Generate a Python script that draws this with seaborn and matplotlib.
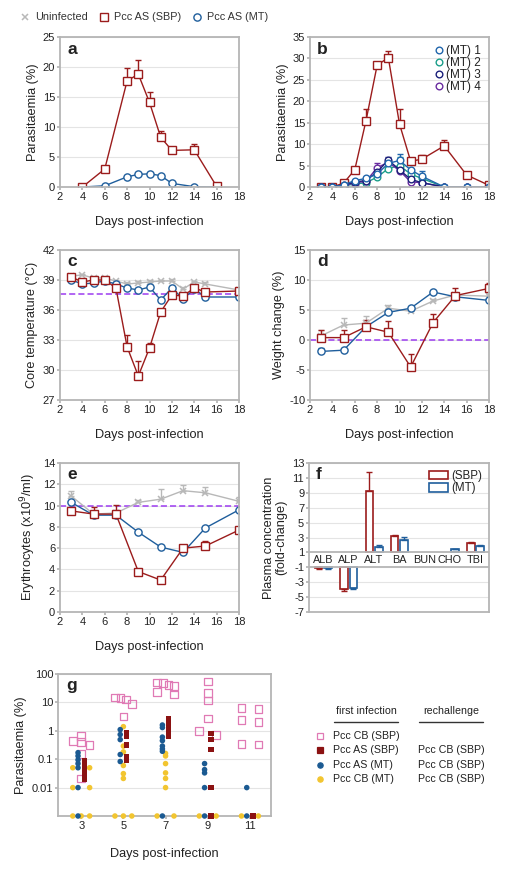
import numpy as np
import pandas as pd
import seaborn as sns
import matplotlib.pyplot as plt
from matplotlib.lines import Line2D
from matplotlib.patches import Patch
from matplotlib.ticker import NullLocator

# ---------------- data ----------------
# a: parasitaemia, Pcc AS (SBP) vs Pcc AS (MT)
a_days = [4, 6, 8, 9, 10, 11, 12, 14, 16]
a_sbp = [0, 3.0, 17.7, 18.8, 14.1, 8.3, 6.1, 6.2, 0.1]
a_sbp_err = [0, 0, 2.1, 2.3, 1.7, 1.1, 0.6, 0.9, 0]
a_mt = [0, 0.2, 1.7, 2.1, 2.2, 1.9, 0.6, 0.05, 0]

# b: parasitaemia, SBP vs four MT lines
b_days = [3, 4, 5, 6, 7, 8, 9, 10, 11, 12, 14, 16, 18]
b_sbp = [0, 0, 0.9, 4.0, 15.4, 28.4, 30.2, 14.7, 6.0, 6.5, 9.6, 2.8, 0.4]
b_sbp_err = [0, 0, 0, 0, 2.9, 0.8, 1.5, 3.6, 0, 1.0, 1.4, 0.6, 0]
b_mt1 = [0, 0, 0.5, 1.5, 2.0, 3.0, 5.5, 6.2, 4.0, 2.5, 0, 0, 0]
b_mt1_err = [0, 0, 0, 0, 0, 0, 0.5, 1.6, 0, 1.3, 0, 0, 0]
b_mt2 = [0, 0, 0.3, 0.7, 1.0, 2.3, 4.3, 5.0, 3.0, 2.0, 0, 0, 0]
b_mt2_err = [0, 0, 0, 0, 0, 0, 0, 2.0, 0, 1.0, 0, 0, 0]
b_mt3 = [0, 0, 0.4, 1.2, 1.5, 3.5, 6.3, 4.0, 1.8, 1.0, 0, 0, 0]
b_mt3_err = [0, 0, 0, 0, 0, 0, 0.8, 0, 0, 0, 0, 0, 0]
b_mt4 = [0, 0, 0.3, 1.0, 1.3, 4.5, 5.8, 3.8, 1.2, 1.0, 0, 0, 0]
b_mt4_err = [0, 0, 0, 0, 0, 1.0, 0, 0, 0, 0, 0, 0, 0]

# c: core temperature
c_days = [3, 4, 5, 6, 7, 8, 9, 10, 11, 12, 13, 14, 15, 18]
c_uninf = [39.4, 39.5, 39.2, 39.2, 38.9, 38.6, 38.7, 38.8, 38.9, 38.9, 38.1, 38.8, 38.6, 38.0]
c_uninf_err = [0.1, 0.1, 0.1, 0.1, 0.1, 0.2, 0.2, 0.2, 0.1, 0.2, 0.2, 0.1, 0.2, 0.2]
c_sbp = [39.3, 38.8, 39.0, 39.0, 38.2, 32.3, 29.4, 32.2, 35.8, 37.5, 37.4, 38.2, 37.8, 37.9]
c_sbp_err = [0.1, 0, 0, 0, 0, 1.2, 1.5, 0.5, 0, 0, 0, 0, 0, 0]
c_mt = [39.0, 38.6, 38.7, 38.9, 38.6, 38.2, 38.0, 38.3, 37.0, 38.2, 37.1, 38.1, 37.3, 37.3]
c_ref = 37.6

# d: weight change
d_days = [3, 5, 7, 9, 11, 13, 15, 18]
d_uninf = [0.7, 2.5, 2.8, 5.3, 4.8, 6.5, 7.5, 7.3]
d_uninf_err = [0.9, 1.2, 1.2, 0.6, 0.3, 0.4, 0.3, 0.3]
d_sbp = [0.4, 0.4, 2.2, 1.3, -4.5, 2.9, 7.4, 8.6]
d_sbp_err = [1.3, 1.3, 1.1, 1.9, 2.2, 1.5, 1.2, 0.9]
d_mt = [-1.9, -1.7, 2.2, 4.6, 5.3, 8.0, 7.2, 6.6]
d_mt_err = [0.5, 0.2, 0.2, 0.2, 0.2, 0.2, 0.2, 0.2]
d_ref = 0

# e: erythrocytes
e_days = [3, 5, 7, 9, 11, 13, 15, 18]
e_uninf = [10.9, 9.2, 9.3, 10.3, 10.6, 11.4, 11.2, 10.4]
e_uninf_err = [0.5, 0.3, 0.3, 0.2, 1.0, 0.5, 0.5, 0.4]
e_sbp = [9.5, 9.2, 9.2, 3.8, 3.0, 6.0, 6.2, 7.7]
e_sbp_err = [0, 0.7, 0.9, 0, 0, 0.2, 0.5, 0]
e_mt = [10.3, 9.1, 9.1, 7.5, 6.1, 5.6, 7.9, 9.6]
e_ref = 10

# f: plasma chemistry fold-change
f_analytes = ['ALB', 'ALP', 'ALT', 'BA', 'BUN', 'CHO', 'TBI']
f_sbp = [-1.15, -3.9, 9.3, 3.2, np.nan, np.nan, 2.2]
f_sbp_err = [0.05, 0.3, 2.5, 0.1, 0, 0, 0.2]
f_mt = [-1.15, -3.8, 1.7, 2.7, np.nan, 1.4, 1.85]
f_mt_err = [0.05, 0.1, 0.3, 0.35, 0, 0.05, 0.1]

# g: parasitaemia after rechallenge (individual mice, 0 = undetected)
g_days = [3, 5, 7, 9, 11]
g_cb_sbp = [[0.65, 0.44, 0.40, 0.32, 0.15, 0.021],
            [15, 14, 12.5, 9, 3.2],
            [50, 48, 42, 38, 23, 19],
            [55, 21, 11.5, 2.7, 1.0, 0.7],
            [6.5, 6.0, 2.4, 2.0, 0.35, 0.33]]
g_as_sbp = [[0.09, 0.065, 0.045, 0.03, 0.02],
            [0.85, 0.65, 0.32, 0.12, 0.092],
            [2.6, 2.0, 1.5, 1.15, 0.85, 0.65],
            [0.8, 0.5, 0.22, 0.01, 0],
            [0]]
g_as_mt = [[0.17, 0.13, 0.095, 0.07, 0.05, 0.01, 0],
           [1.1, 0.74, 0.49, 0.146, 0.083],
           [1.6, 1.3, 0.6, 0.45, 0.29, 0.23, 0.19, 0],
           [0.07, 0.043, 0.033, 0.01, 0],
           [0.01, 0]]
g_cb_mt = [[0.05, 0.05, 0.01, 0.01, 0, 0, 0],
           [1.4, 0.29, 0.18, 0.06, 0.031, 0.021, 0, 0, 0],
           [0.16, 0.13, 0.07, 0.033, 0.021, 0.01, 0, 0],
           [0, 0],
           [0, 0]]

# ---------------- style ----------------
RED = '#9b1c1c'
BLUE = '#1f5e9c'
GREY = '#b8b8b8'
VIOLET = '#9d3cf0'
MT_COLORS = ['#2166ac', '#1b9e8a', '#1a1f7a', '#6a2ca0']
PINK = '#e07ab5'
G_RED = '#8b1212'
G_BLUE = '#1b5a92'
G_YELLOW = '#f2c530'
SPINE = '#b5b5b5'
TXT = '#222222'
TICK_FS = 8
LABEL_FS = 9.2

sns.set_theme(style='whitegrid')
plt.rcParams['font.family'] = ['Liberation Sans', 'DejaVu Sans']
plt.rcParams['axes.unicode_minus'] = False

W, H = 508, 869
fig = plt.figure(figsize=(W / 100, H / 100), dpi=100)


def px_axes(left, top, right, bottom):
    return fig.add_axes([left / W, 1 - bottom / H, (right - left) / W, (bottom - top) / H])


def style(ax, letter, xlabel=True):
    ax.grid(axis='x', visible=False)
    ax.grid(axis='y', color='#e4e4e4', lw=0.8)
    for s in ax.spines.values():
        s.set_color(SPINE)
        s.set_linewidth(1.3)
    ax.tick_params(labelsize=TICK_FS, length=2, color=SPINE, pad=1.5, left=True, bottom=True,
                   labelcolor=TXT)
    ax.text(0.04, 0.92, letter, transform=ax.transAxes, fontweight='bold', fontsize=12.5,
            va='center', ha='left', color=TXT)
    if xlabel:
        ax.set_xlabel('Days post-infection', fontsize=LABEL_FS, labelpad=10, color=TXT)
    ax.yaxis.label.set_color(TXT)


def series(ax, days, vals, color, marker, err=None, ms=5.2):
    df = pd.DataFrame({'day': days, 'val': vals})
    if err is not None:
        ax.errorbar(days, vals, yerr=[np.zeros(len(err)), err], fmt='none', ecolor=color,
                    elinewidth=1, capsize=2.5, capthick=1, zorder=1.8)
    if marker == 'x':
        sns.lineplot(data=df, x='day', y='val', ax=ax, color=color, marker='x', ms=4.5,
                     mec=color, mew=1.1, lw=1, zorder=1.9)
    else:
        sns.lineplot(data=df, x='day', y='val', ax=ax, color=color, marker=marker, ms=ms,
                     mfc='white', mec=color, mew=1, lw=1, zorder=2)


def time_axes(ax, ylim, yticks, ylabel):
    ax.set_xlim(2, 18)
    ax.set_xticks(range(2, 19, 2))
    ax.set_ylim(*ylim)
    ax.set_yticks(yticks)
    ax.set_ylabel(ylabel, fontsize=LABEL_FS, labelpad=3)


# ---- a ----
ax = px_axes(60, 37, 239, 187)
series(ax, a_days, a_mt, BLUE, 'o')
series(ax, a_days, a_sbp, RED, 's', a_sbp_err)
time_axes(ax, (0, 25), range(0, 26, 5), 'Parasitaemia (%)')
style(ax, 'a')

# ---- b ----
ax = px_axes(310, 37, 489, 187)
series(ax, b_days, b_sbp, RED, 's', b_sbp_err)
for vals, err, col in zip([b_mt2, b_mt4, b_mt3, b_mt1], [b_mt2_err, b_mt4_err, b_mt3_err, b_mt1_err],
                          [MT_COLORS[1], MT_COLORS[3], MT_COLORS[2], MT_COLORS[0]]):
    series(ax, b_days, vals, col, 'o', err, ms=4.8)
time_axes(ax, (0, 35), range(0, 36, 5), 'Parasitaemia (%)')
style(ax, 'b')
ax.legend(handles=[Line2D([], [], ls='none', marker='o', ms=4.8, mfc='white', mec=c, mew=1,
                          label=f'(MT) {i + 1}') for i, c in enumerate(MT_COLORS)],
          loc='upper right', frameon=False, fontsize=8.5, handletextpad=0.1, labelspacing=0.0,
          borderaxespad=0.3, handlelength=1.0, labelcolor=TXT)

# ---- c ----
ax = px_axes(60, 250, 239, 400)
series(ax, c_days, c_uninf, GREY, 'x', c_uninf_err)
ax.axhline(c_ref, color=VIOLET, ls='--', lw=1.1, dashes=(4, 2), zorder=1.7)
series(ax, c_days, c_mt, BLUE, 'o')
series(ax, c_days, c_sbp, RED, 's', c_sbp_err)
time_axes(ax, (27, 42), range(27, 43, 3), 'Core temperature (°C)')
style(ax, 'c')

# ---- d ----
ax = px_axes(310, 250, 489, 400)
series(ax, d_days, d_uninf, GREY, 'x', d_uninf_err)
ax.axhline(d_ref, color=VIOLET, ls='--', lw=1.1, dashes=(4, 2), zorder=1.7)
series(ax, d_days, d_mt, BLUE, 'o', d_mt_err)
series(ax, d_days, d_sbp, RED, 's', d_sbp_err)
time_axes(ax, (-10, 15), range(-10, 16, 5), 'Weight change (%)')
style(ax, 'd')

# ---- e ----
ax = px_axes(60, 463, 239, 612)
series(ax, e_days, e_uninf, GREY, 'x', e_uninf_err)
ax.axhline(e_ref, color=VIOLET, ls='--', lw=1.1, dashes=(4, 2), zorder=1.7)
series(ax, e_days, e_mt, BLUE, 'o')
series(ax, e_days, e_sbp, RED, 's', e_sbp_err)
time_axes(ax, (0, 14), range(0, 15, 2), 'Erythrocytes (x10$^9$/ml)')
style(ax, 'e')

# ---- f ----
ax = px_axes(309, 463, 489, 612)
xpos = np.arange(len(f_analytes))
for vals, errs, col, off in [(f_sbp, f_sbp_err, RED, -0.17), (f_mt, f_mt_err, BLUE, 0.2)]:
    v = np.array(vals, float)
    e = np.array(errs, float)
    base = np.where(v >= 0, 1.0, -1.0)
    ax.bar(xpos + off, v - base, bottom=base, width=0.3, facecolor='white', edgecolor=col,
           lw=1.2, zorder=2)
    up = np.where(v >= 0, e, 0)
    dn = np.where(v < 0, e, 0)
    ok = ~np.isnan(v)
    ax.errorbar((xpos + off)[ok], v[ok], yerr=[dn[ok], up[ok]], fmt='none', ecolor=col,
                elinewidth=1, capsize=2, capthick=1, zorder=2.1)
ax.set_xlim(-0.55, 6.55)
ax.set_ylim(-7, 13)
ax.set_yticks(range(-7, 14, 2))
ax.set_xticks([])
ax.axhspan(-1, 1, color='white', zorder=1)
ax.axhline(1, color=SPINE, lw=1.3, zorder=3)
ax.axhline(-1, color=SPINE, lw=1.3, zorder=3)
for i, name in enumerate(f_analytes):
    ax.text(i, 0, name, ha='center', va='center', fontsize=7.8, color=TXT, zorder=4)
ax.set_ylabel('Plasma concentration\n(fold-change)', fontsize=LABEL_FS, linespacing=1.1, labelpad=3)
style(ax, 'f', xlabel=False)
ax.legend(handles=[Patch(facecolor='white', edgecolor=RED, lw=1.2, label='(SBP)'),
                   Patch(facecolor='white', edgecolor=BLUE, lw=1.2, label='(MT)')],
          loc='upper right', frameon=False, fontsize=8.3, handlelength=1.6, handleheight=0.8,
          handletextpad=0.3, labelspacing=0.05, borderaxespad=0.2, labelcolor=TXT)

# ---- g ----
G_FLOOR = 1e-3


def spread(vals, width, gap):
    """column-scatter offsets: near-equal values are fanned out horizontally"""
    order = np.argsort(vals)[::-1]
    lv = np.log10(np.maximum(np.array(vals, float), G_FLOOR))
    offs = np.zeros(len(vals))
    clusters, cur = [], [order[0]]
    for i in order[1:]:
        if abs(lv[cur[-1]] - lv[i]) < gap:
            cur.append(i)
        else:
            clusters.append(cur)
            cur = [i]
    clusters.append(cur)
    for cl in clusters:
        if len(cl) > 1:
            offs[cl] = np.linspace(-width, width, len(cl))
    return offs


def g_frame(groups, center, width, gap):
    rows = []
    for day, vals in zip(g_days, groups):
        offs = spread(vals, width, gap) if width > 0 else np.zeros(len(vals))
        for v, o in zip(vals, offs):
            rows.append({'x': day + center + o, 'y': max(v, G_FLOOR)})
    return pd.DataFrame(rows)


gax = px_axes(58, 674, 271, 816)
sns.scatterplot(data=g_frame(g_cb_sbp, 0, 0.4, 0.16), x='x', y='y', ax=gax, marker='s', s=30,
                facecolor='none', edgecolor=PINK, linewidth=0.9, clip_on=False, zorder=3)
sns.scatterplot(data=g_frame(g_cb_mt, 0, 0.4, 0.05), x='x', y='y', ax=gax, marker='o', s=16,
                color=G_YELLOW, edgecolor='none', clip_on=False, zorder=4)
sns.scatterplot(data=g_frame(g_as_mt, -0.15, 0, 0), x='x', y='y', ax=gax, marker='o', s=16,
                color=G_BLUE, edgecolor='none', clip_on=False, zorder=5)
sns.scatterplot(data=g_frame(g_as_sbp, 0.15, 0, 0), x='x', y='y', ax=gax, marker='s', s=15,
                color=G_RED, edgecolor='none', clip_on=False, zorder=6)
gax.set_yscale('log')
gax.set_ylim(G_FLOOR, 100)
gax.set_yticks([0.01, 0.1, 1, 10, 100])
gax.set_yticklabels(['0.01', '0.1', '1', '10', '100'])
gax.yaxis.set_minor_locator(NullLocator())
gax.set_xlim(1.9, 12)
gax.set_xticks(g_days)
gax.set_ylabel('Parasitaemia (%)', fontsize=LABEL_FS, labelpad=3)
style(gax, 'g')
gax.set_xlabel('Days post-infection', fontsize=LABEL_FS, labelpad=12, color=TXT)

# top legend
fig.legend(handles=[Line2D([], [], ls='none', marker='x', ms=4.5, mec=GREY, mew=1.1, label='Uninfected'),
                    Line2D([], [], ls='none', marker='s', ms=5.2, mfc='white', mec=RED, mew=1,
                           label='Pcc AS (SBP)'),
                    Line2D([], [], ls='none', marker='o', ms=5.2, mfc='white', mec=BLUE, mew=1,
                           label='Pcc AS (MT)')],
           loc='upper left', bbox_to_anchor=(0.02, 0.997), ncol=3, frameon=False, fontsize=7.8,
           handlelength=1.0, handletextpad=0.4, columnspacing=1.0, labelcolor='#333333')

# legend table for g (pixel coordinates)
lax = fig.add_axes([0, 0, 1, 1])
lax.set_xlim(0, W)
lax.set_ylim(H, 0)
lax.axis('off')
lax.text(366, 711, 'first infection', ha='center', va='center', fontsize=7.7, color=TXT)
lax.text(451, 711, 'rechallenge', ha='center', va='center', fontsize=7.7, color=TXT)
lax.plot([334, 398], [722, 722], color='#333333', lw=1)
lax.plot([419, 483], [722, 722], color='#333333', lw=1)
g_legend = [('s', 'none', PINK, 'Pcc CB (SBP)', ''),
            ('s', G_RED, G_RED, 'Pcc AS (SBP)', 'Pcc CB (SBP)'),
            ('o', G_BLUE, G_BLUE, 'Pcc AS (MT)', 'Pcc CB (SBP)'),
            ('o', G_YELLOW, G_YELLOW, 'Pcc CB (MT)', 'Pcc CB (SBP)')]
for k, (m, fc, ec, first, second) in enumerate(g_legend):
    yy = 736 + k * 14.3
    lax.plot([320], [yy], ls='none', marker=m, ms=4.5 if fc == 'none' else 3.8, mfc=fc, mec=ec, mew=0.9)
    lax.text(333, yy, first, ha='left', va='center', fontsize=7.7, color=TXT)
    if second:
        lax.text(418, yy, second, ha='left', va='center', fontsize=7.7, color=TXT)

fig.savefig('out.png', dpi=100)
